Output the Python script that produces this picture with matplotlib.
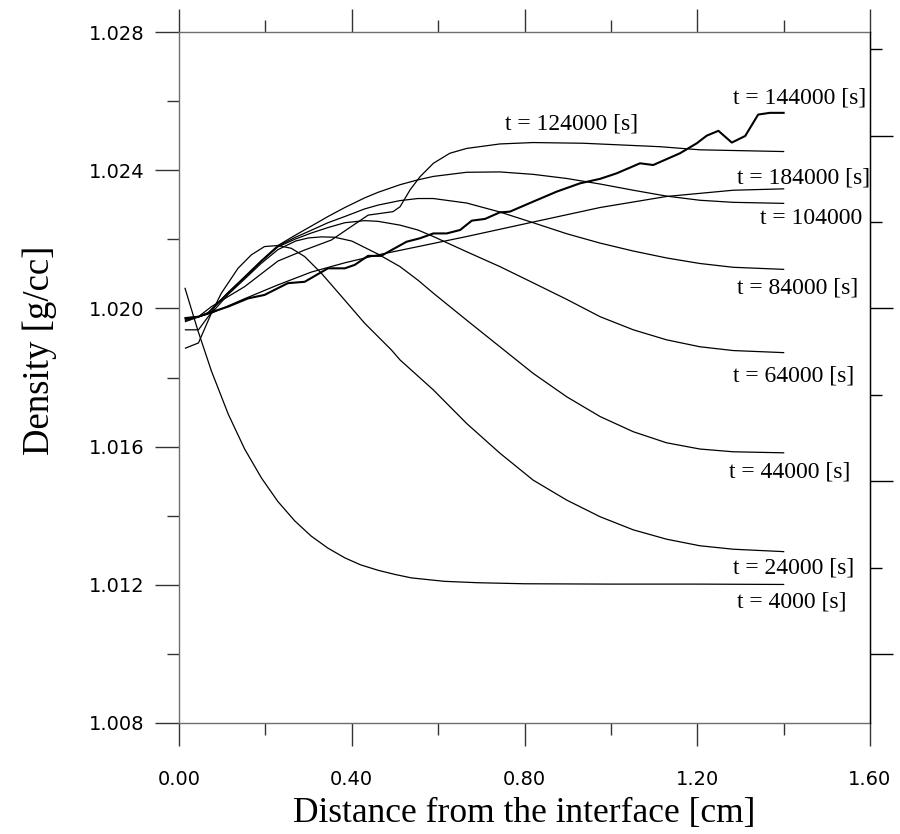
import matplotlib
matplotlib.use('Agg')
import matplotlib.pyplot as plt
from matplotlib.ticker import FixedLocator, FormatStrFormatter, NullFormatter

# ---------------- data ----------------
x_4000 = [0.014, 0.044, 0.075, 0.114, 0.152, 0.191, 0.229, 0.268, 0.306, 0.345, 0.384, 0.42, 0.461, 0.50,
          0.538, 0.615, 0.692, 0.80, 1.0, 1.2, 1.4]
y_4000 = [1.02058, 1.01935, 1.01819, 1.01694, 1.01593, 1.01509, 1.01441, 1.01385, 1.01341, 1.01306,
          1.01278, 1.01258, 1.01242, 1.01230, 1.01220, 1.01210, 1.01206, 1.01203, 1.01202, 1.01202, 1.01201]

x_24000 = [0.015, 0.045, 0.075, 0.098, 0.1366, 0.1675, 0.198, 0.229, 0.26, 0.291, 0.3295, 0.3837, 0.43,
           0.4916, 0.5117, 0.589, 0.666, 0.743, 0.82, 0.898, 0.975, 1.052, 1.129, 1.206, 1.283, 1.4]
y_24000 = [1.01885, 1.01900, 1.01986, 1.02044, 1.02116, 1.02155, 1.02179, 1.02182, 1.02174, 1.02150,
           1.02102, 1.02024, 1.01957, 1.01880, 1.01851, 1.01764, 1.01667, 1.01581, 1.01503, 1.01445,
           1.01397, 1.01359, 1.01332, 1.01313, 1.01303, 1.01296]

x_44000 = [0.015, 0.045, 0.067, 0.1135, 0.152, 0.19, 0.229, 0.27, 0.30, 0.33, 0.36, 0.40, 0.461, 0.5117,
           0.553, 0.589, 0.666, 0.743, 0.82, 0.898, 0.975, 1.052, 1.129, 1.206, 1.283, 1.4]
y_44000 = [1.01938, 1.01938, 1.01975, 1.02040, 1.02085, 1.02130, 1.02170, 1.02195, 1.02204, 1.02207,
           1.02206, 1.02195, 1.02157, 1.02121, 1.02082, 1.02044, 1.01966, 1.01889, 1.01812, 1.01744,
           1.01687, 1.01643, 1.01611, 1.01593, 1.01585, 1.01582]

x_mid = [0.015, 0.045, 0.067, 0.1135, 0.152, 0.19, 0.229, 0.268, 0.306, 0.345, 0.384, 0.43, 0.461, 0.5117,
         0.553, 0.589, 0.666, 0.743, 0.82, 0.898, 0.975, 1.052, 1.129, 1.206, 1.283, 1.4]
y_64000 = [1.01962, 1.01975, 1.01986, 1.02044, 1.02089, 1.02135, 1.02178, 1.02200, 1.02218, 1.02234,
           1.02248, 1.02254, 1.02252, 1.02241, 1.02227, 1.02208, 1.02164, 1.02121, 1.02074, 1.02026,
           1.01976, 1.01938, 1.01909, 1.01889, 1.01878, 1.01872]
y_84000 = [1.01965, 1.01976, 1.01986, 1.02045, 1.02090, 1.02136, 1.02180, 1.02205, 1.02226, 1.02248,
           1.02266, 1.02288, 1.02299, 1.02312, 1.02318, 1.02318, 1.02305, 1.02279, 1.02248, 1.02216,
           1.02189, 1.02166, 1.02146, 1.02130, 1.02119, 1.02113]
y_104000 = [1.01968, 1.01976, 1.01987, 1.02046, 1.02092, 1.02138, 1.02182, 1.02211, 1.02238, 1.02266,
            1.02292, 1.02320, 1.02336, 1.02358, 1.02372, 1.02382, 1.02394, 1.02395, 1.02388, 1.02376,
            1.02360, 1.02342, 1.02325, 1.02313, 1.02307, 1.02304]

x_124000 = [0.015, 0.045, 0.075, 0.152, 0.229, 0.291, 0.353, 0.399, 0.438, 0.4955, 0.5117, 0.535, 0.558,
            0.589, 0.627, 0.666, 0.743, 0.82, 0.936, 1.114, 1.206, 1.4]
y_124000 = [1.01970, 1.01976, 1.02005, 1.02063, 1.02137, 1.02169, 1.02198, 1.02237, 1.02270, 1.02280,
            1.02294, 1.02343, 1.02381, 1.02420, 1.02449, 1.02463, 1.02476, 1.02480, 1.02478, 1.02468,
            1.02459, 1.02454]

x_144000 = [0.015, 0.045, 0.067, 0.1135, 0.16, 0.198, 0.252, 0.291, 0.345, 0.384, 0.407, 0.4376, 0.468,
            0.4995, 0.527, 0.558, 0.589, 0.62, 0.651, 0.678, 0.7086, 0.743, 0.766, 0.82, 0.8746, 0.9285,
            0.975, 1.0135, 1.0675, 1.098, 1.16, 1.199, 1.222, 1.249, 1.28, 1.311, 1.341, 1.368, 1.4]
y_144000 = [1.01972, 1.01976, 1.01986, 1.02005, 1.02029, 1.02039, 1.02073, 1.02077, 1.02116, 1.02116,
            1.02126, 1.02152, 1.02152, 1.02174, 1.02193, 1.02203, 1.02217, 1.02217, 1.02227, 1.02254,
            1.02259, 1.02278, 1.02280, 1.02309, 1.02338, 1.02362, 1.02375, 1.02391, 1.02420, 1.02415,
            1.02449, 1.02478, 1.02500, 1.02514, 1.02480, 1.02499, 1.02561, 1.02566, 1.02566]

x_184000 = [0.015, 0.045, 0.075, 0.152, 0.229, 0.306, 0.384, 0.461, 0.5117, 0.666, 0.82, 0.975, 1.129, 1.283, 1.4]
y_184000 = [1.01972, 1.01976, 1.01986, 1.02028, 1.02068, 1.02105, 1.02132, 1.02155, 1.02168, 1.02208,
            1.02250, 1.02292, 1.02324, 1.02342, 1.02346]

labels = ["t = 124000 [s]", "t = 144000 [s]", "t = 184000 [s]", "t = 104000", "t = 84000 [s]",
          "t = 64000 [s]", "t = 44000 [s]", "t = 24000 [s]", "t = 4000 [s]"]
label_x = [0.755, 1.283, 1.291, 1.345, 1.293, 1.282, 1.274, 1.2835, 1.293]
label_y = [1.02534, 1.02610, 1.02377, 1.02261, 1.02058, 1.01805, 1.01527, 1.01250, 1.01149]

x_major = [0.0, 0.4, 0.8, 1.2, 1.6]
x_minor = [0.2, 0.6, 1.0, 1.4]
y_major = [1.008, 1.012, 1.016, 1.020, 1.024, 1.028]
y_minor = [1.010, 1.014, 1.018, 1.022, 1.026]
yr_major = [1.010, 1.015, 1.020, 1.025]
yr_minor = [1.0125, 1.0175, 1.0225, 1.0275]

# ---------------- figure ----------------
fig = plt.figure(figsize=(9.0, 8.34), dpi=100)
ax = fig.add_axes([179/900, 1 - 723/834, (870-179)/900, (723-32)/834])
ax.set_xlim(0, 1.6)
ax.set_ylim(1.008, 1.028)

lw = 0.9
for xs, ys in [(x_4000, y_4000), (x_24000, y_24000), (x_44000, y_44000), (x_mid, y_64000),
               (x_mid, y_84000), (x_mid, y_104000), (x_124000, y_124000), (x_184000, y_184000)]:
    ax.plot(xs, ys, color='black', lw=lw, solid_joinstyle='round')
ax.plot(x_144000, y_144000, color='black', lw=1.5, solid_joinstyle='round')

serif = ['Liberation Serif', 'DejaVu Serif']
for t, lx, ly in zip(labels, label_x, label_y):
    ax.text(lx, ly, t, ha='left', va='center', fontsize=17, family=serif)

spine_grey = '#6e6e6e'
for s in ['left', 'bottom', 'top']:
    ax.spines[s].set_color(spine_grey)
    ax.spines[s].set_linewidth(1.0)
ax.spines['right'].set_color('black')
ax.spines['right'].set_linewidth(1.0)

ax.xaxis.set_major_locator(FixedLocator(x_major))
ax.xaxis.set_minor_locator(FixedLocator(x_minor))
ax.yaxis.set_major_locator(FixedLocator(y_major))
ax.yaxis.set_minor_locator(FixedLocator(y_minor))
ax.xaxis.set_major_formatter(FormatStrFormatter('%.2f'))
ax.yaxis.set_major_formatter(FormatStrFormatter('%.3f'))

ax.tick_params(axis='x', which='both', direction='out', top=True, bottom=True,
               labeltop=False, colors='#333333', width=1.0)
ax.tick_params(axis='x', which='major', length=16.5, pad=17, labelsize=14, labelcolor='black')
ax.tick_params(axis='x', which='minor', length=8.6)
ax.tick_params(axis='y', which='both', direction='out', left=True, right=False,
               colors='#333333', width=1.0)
ax.tick_params(axis='y', which='major', length=17, pad=8, labelsize=14, labelcolor='black')
ax.tick_params(axis='y', which='minor', length=8.6)

ax2 = ax.twinx()
ax2.set_ylim(1.008, 1.028)
ax2.yaxis.set_major_locator(FixedLocator(yr_major))
ax2.yaxis.set_minor_locator(FixedLocator(yr_minor))
ax2.yaxis.set_major_formatter(NullFormatter())
ax2.yaxis.set_minor_formatter(NullFormatter())
ax2.tick_params(axis='y', which='both', direction='out', colors='black', width=1.0)
ax2.tick_params(axis='y', which='major', length=16.5)
ax2.tick_params(axis='y', which='minor', length=8.6)
for s in ['left', 'bottom', 'top']:
    ax2.spines[s].set_visible(False)
ax2.spines['right'].set_color('black')

fig.text(524.5/900, 1 - 821.7/834, "Distance from the interface [cm]", ha='center', va='baseline',
         fontsize=25.5, family=serif)
fig.text(40/900, 1 - 350/834, "Density [g/cc]", ha='center', va='center', rotation=90,
         fontsize=26.5, family=serif)

fig.savefig('out.png', dpi=100)
